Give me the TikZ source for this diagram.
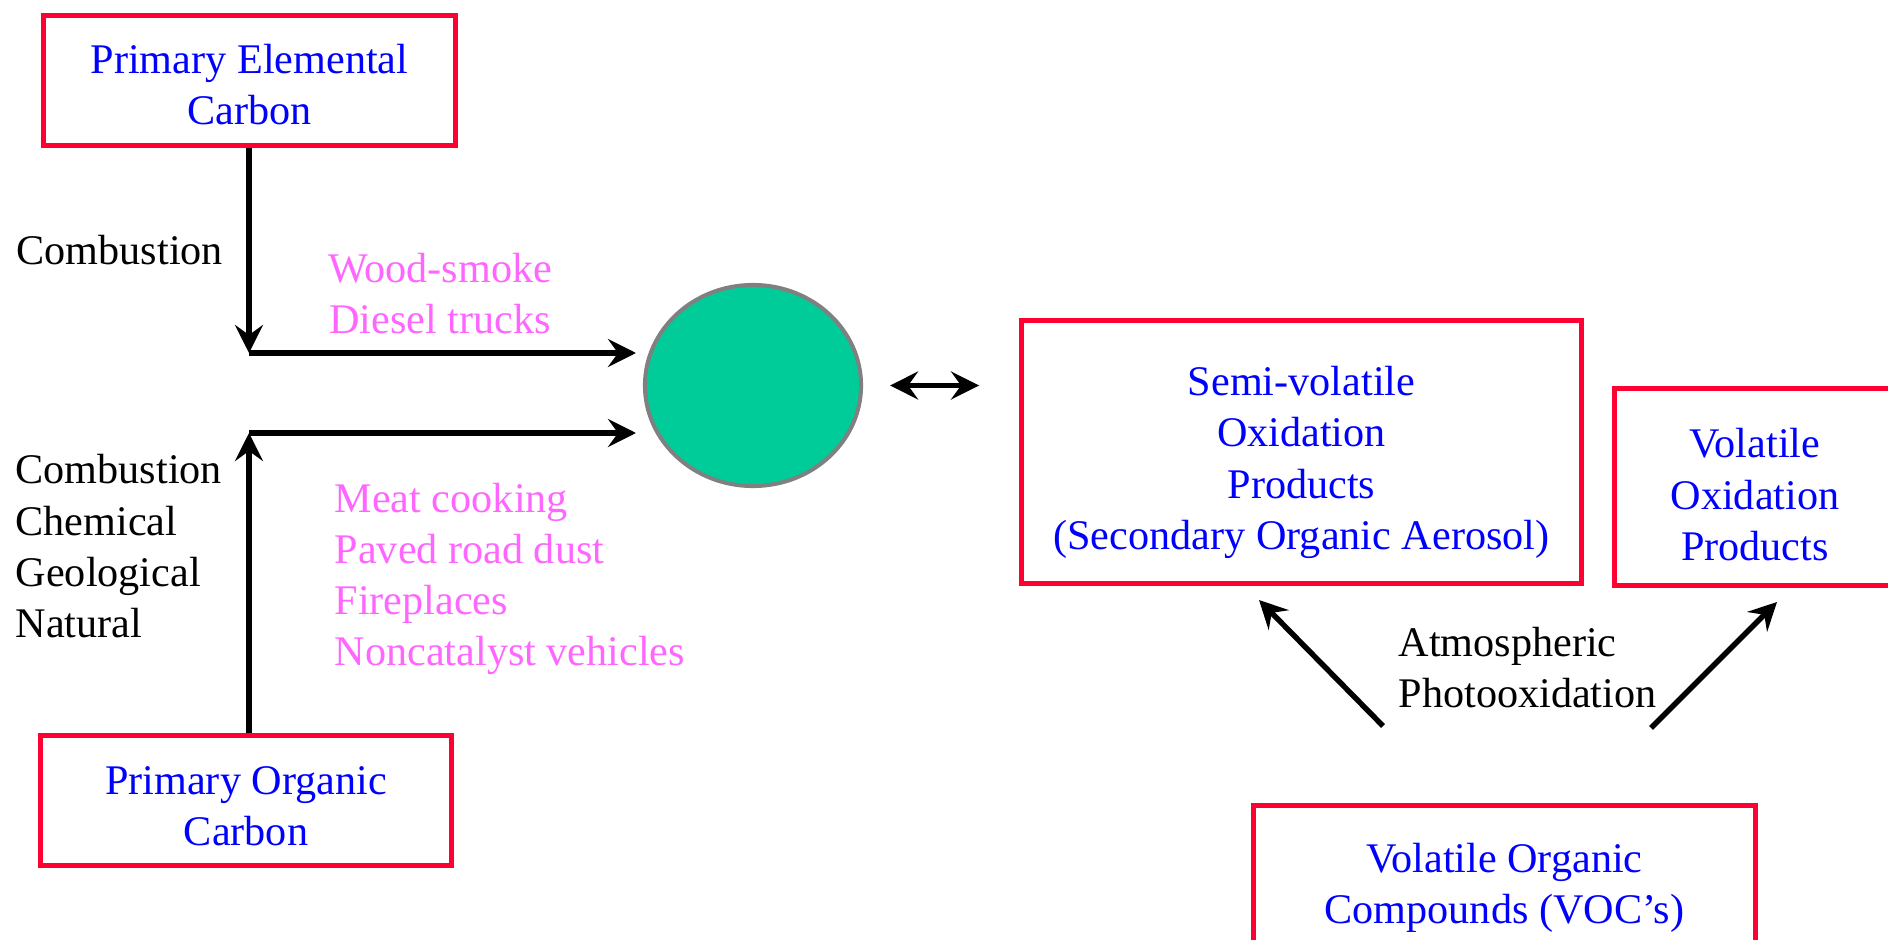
\documentclass[tikz,border=0pt]{standalone}
\usepackage{fontspec}
\setmainfont{Liberation Serif}
\usepackage{tikz}
\usetikzlibrary{arrows.meta}
\usetikzlibrary{positioning}
\usetikzlibrary{shapes.geometric}

\definecolor{boxred}{RGB}{255,0,51}
\definecolor{srcpink}{RGB}{255,102,255}
\definecolor{aerogreen}{RGB}{0,204,153}

% first-line strut to lower box text
\newcommand{\droptext}[1]{\rule{0pt}{#1}}

\tikzset{
  flowtip/.tip={Stealth[length=0.28cm,width=0.28cm,inset=0.1cm]},
  carbonbox/.style={draw=boxred, line width=1.3pt, align=center, text=blue, inner sep=0pt},
  flow/.style={-flowtip, line width=1.55pt},
  srclbl/.style={text=srcpink, inner sep=0pt},
  proclbl/.style={text=black, inner sep=0pt},
}

\begin{document}
\begin{tikzpicture}[x=0.01cm, y=-0.01cm, font=\fontsize{12}{14.6}\selectfont]
		% frame
		\useasboundingbox (0,0) rectangle (1888,940);
		\clip (0,0) rectangle (1888,940);
		% boxes
		\node[carbonbox, minimum width=4.12cm, minimum height=1.30cm] (pec) at (249.5,80.5) {\droptext{0.38cm}Primary Elemental\\Carbon};
		\node[carbonbox, minimum width=4.11cm, minimum height=1.30cm] (poc) at (246,800.5) {\droptext{0.39cm}Primary Organic\\Carbon};
		\node[carbonbox, minimum width=5.60cm, minimum height=2.63cm] (svoc) at (1301.5,452) {\droptext{0.50cm}Semi-volatile\\Oxidation\\Products\\(Secondary Organic Aerosol)};
		\node[carbonbox, minimum width=2.81cm, minimum height=1.97cm] (vop) at (1755,487) {\droptext{0.45cm}Volatile\\Oxidation\\Products};
		\node[carbonbox, minimum width=5.02cm, minimum height=1.55cm] (voc) at (1504.5,883) {\droptext{0.39cm}Volatile Organic\\Compounds (VOC’s)};
		% particle
		\node[ellipse, draw=gray, line width=1.15pt, fill=aerogreen, minimum width=2.16cm, minimum height=2.01cm, inner sep=0pt] (aer) at (753,385.5) {};
		% junctions
		\coordinate (j1) at (249,353);
		\coordinate (j2) at (249,433);
		\coordinate (in1) at (636,353);
		\coordinate (in2) at (636,433);
		\coordinate (ox1) at (1383,726);
		\coordinate (ox2) at (1651,728);
		\coordinate (svin) at (1259,600);
		\coordinate (vpin) at (1777,602);
		% arrows
		\draw[flow] (pec.south -| j1) -- (j1);
		\draw[flow] (j1) -- (in1);
		\draw[flow] (poc.north -| j2) -- (j2);
		\draw[flow] (j2) -- (in2);
		\draw[flow, flowtip-flowtip] ([xshift=0.27cm]aer.east) -- ([xshift=-0.40cm]aer.east -| svoc.west);
		\draw[flow] (ox1) -- (svin);
		\draw[flow] (ox2) -- (vpin);
		% labels
		\node[proclbl, anchor=base west] (comb) at (16,265) {Combustion};
		\foreach \t [count=\i] in {Combustion,Chemical,Geological,Natural}
			\node[proclbl, anchor=base west] (src\i) at (15,{432.7+51.3*\i}) {\t};
		\node[srclbl, anchor=base] (ws) at (440,283) {Wood-smoke};
		\node[srclbl, anchor=base] (dt) at (440,334) {Diesel trucks};
		\foreach \t [count=\i] in {Meat cooking,Paved road dust,Fireplaces,Noncatalyst vehicles}
			\node[srclbl, anchor=base west] (pm\i) at (334,{460.8+51.2*\i}) {\t};
		\node[proclbl, anchor=base west] (atm) at (1398,656) {Atmospheric};
		\node[proclbl, anchor=base west] (phox) at (1398,707) {Photooxidation};
	\end{tikzpicture}
\end{document}
